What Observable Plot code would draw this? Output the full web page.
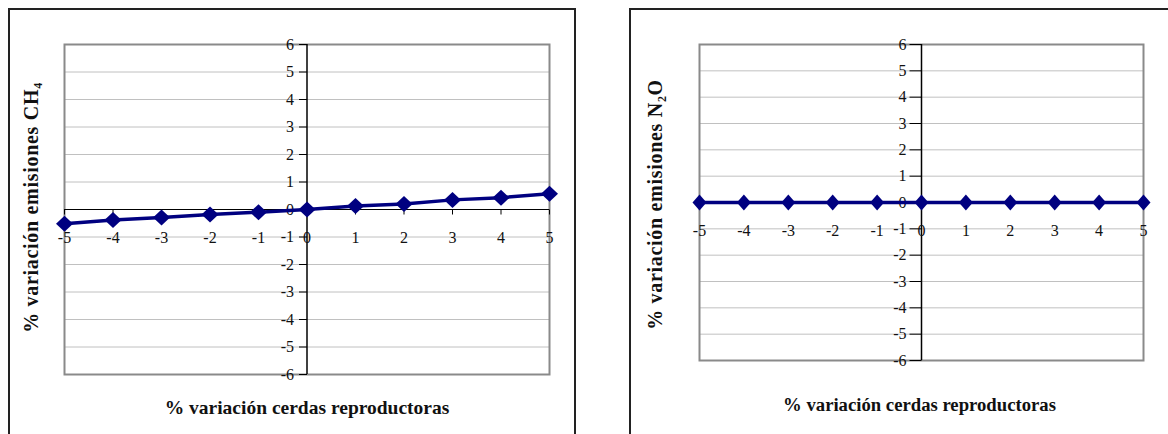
<!DOCTYPE html>
<html><head><meta charset="utf-8">
<script src="https://cdn.jsdelivr.net/npm/d3@7"></script>
<script src="https://cdn.jsdelivr.net/npm/@observablehq/plot@0.6"></script>
<style>
body{margin:0;background:#fff;}
#wrap{position:relative;width:1168px;height:434px;overflow:hidden;background:#fff;}
.panel{position:absolute;top:0;}
#wrap svg, #wrap svg text{font-family:"Liberation Serif","Tinos","Times New Roman","DejaVu Serif",serif !important;}
.frame{position:absolute;box-sizing:border-box;border:2px solid #222;border-bottom:none;pointer-events:none;}
</style></head><body><div id="wrap"></div>
<script>
// ---- data ----
const variacionCerdas = [-5, -4, -3, -2, -1, 0, 1, 2, 3, 4, 5];
const emisionesCH4 = [-0.52, -0.38, -0.29, -0.18, -0.1, 0, 0.13, 0.2, 0.35, 0.43, 0.57];
const emisionesN2O = [0, 0, 0, 0, 0, 0, 0, 0, 0, 0, 0];
const yTicks = [-6, -5, -4, -3, -2, -1, 0, 1, 2, 3, 4, 5, 6];
const xTicks = [-5, -4, -3, -2, -1, 0, 1, 2, 3, 4, 5];
const xTitle = "% variación cerdas reproductoras";
const yTitleCH4 = "% variación emisiones CH₄";
const yTitleN2O = "% variación emisiones N₂O";

const FONT = "Liberation Serif, Tinos, Times New Roman, DejaVu Serif, serif";

function hTick(len) { return {draw(c) { c.moveTo(-len, 0); c.lineTo(0, 0); }}; }
function vTick(len) { return {draw(c) { c.moveTo(0, 0); c.lineTo(0, len); }}; }
function diamond(w, h) { return {draw(c) { c.moveTo(0, -h); c.lineTo(w, 0); c.lineTo(0, h); c.lineTo(-w, 0); c.closePath(); }}; }

function panel(o) {
  const data = variacionCerdas.map((x, i) => ({x, y: o.values[i]}));
  const svg = Plot.plot({
    width: o.width, height: 434,
    marginLeft: o.ml, marginRight: o.mr, marginTop: o.mt, marginBottom: o.mb,
    style: {fontSize: "16px", background: "transparent", color: "#111", overflow: "visible"},
    x: {domain: [-5, 5], axis: null},
    y: {domain: [-6, 6], axis: null},
    marks: [
      Plot.ruleY(yTicks.filter(d => d !== 0), {y: d => d, stroke: "#c0c0c0", strokeWidth: 1}),
      Plot.frame({stroke: "#8a8a8a", strokeWidth: 2}),
      Plot.ruleY([0], {y: d => d, stroke: "#000", strokeWidth: 1}),
      Plot.ruleX([0], {x: d => d, stroke: "#000", strokeWidth: 1.5}),
      Plot.dot(yTicks, {x: d => 0, y: d => d, symbol: hTick(o.tickLen), stroke: "#000", fill: "none", strokeWidth: 1}),
      Plot.dot(xTicks, {x: d => d, y: d => 0, symbol: vTick(5), stroke: "#000", fill: "none", strokeWidth: 1}),
      Plot.text(yTicks, {x: d => 0, y: d => d, text: d => String(d), textAnchor: "end", dx: o.labelDx, fill: "#111", fontFamily: FONT, fontSize: 16}),
      Plot.text(xTicks, {x: d => d, y: d => 0, text: d => String(d), dy: 28, fill: "#111", fontFamily: FONT, fontSize: 16}),
      Plot.line(data, {x: "x", y: "y", stroke: "#000080", strokeWidth: 3.5}),
      Plot.dot(data, {x: "x", y: "y", symbol: o.marker, fill: "#000080", stroke: "none"}),
      Plot.text([o.yTitle], {frameAnchor: "left", textAnchor: "middle", rotate: -90, dx: o.ytDx, dy: o.ytDy, fontWeight: "bold", fontSize: 20, fontFamily: FONT, fill: "#111", text: d => d}),
      Plot.text([xTitle], {frameAnchor: "bottom", textAnchor: "middle", dx: o.xtDx, dy: o.xtDy, fontWeight: "bold", fontSize: o.xtSize, fontFamily: FONT, fill: "#111", text: d => d})
    ]
  });
  return svg;
}

const wrap = document.getElementById("wrap");

const left = panel({values: emisionesCH4, yTitle: yTitleCH4, width: 584, ml: 64, mr: 35, mt: 44, mb: 60,
  tickLen: 8, labelDx: -13, ytDx: -33, ytDy: -2, xtDx: 0, xtDy: 39, xtSize: 19.5, marker: diamond(8.5, 8)});
left.classList.add("panel"); left.style.left = "0px";
wrap.appendChild(left);

const right = panel({values: emisionesN2O, yTitle: yTitleN2O, width: 584, ml: 115, mr: 25, mt: 44, mb: 74,
  tickLen: 12, labelDx: -15, ytDx: -44, ytDy: 2, xtDx: -2, xtDy: 50, xtSize: 18.7, marker: diamond(7, 8)});
right.classList.add("panel"); right.style.left = "584px";
wrap.appendChild(right);

d3.select(wrap).selectAll("text").filter(function() { return this.textContent.startsWith("% variación emisiones"); })
  .style("letter-spacing", "0.7px");

const f1 = document.createElement("div"); f1.className = "frame";
Object.assign(f1.style, {left: "8px", top: "8px", width: "568px", height: "500px"});
wrap.appendChild(f1);
const f2 = document.createElement("div"); f2.className = "frame";
Object.assign(f2.style, {left: "629px", top: "8px", width: "600px", height: "500px"});
wrap.appendChild(f2);
</script></body></html>
